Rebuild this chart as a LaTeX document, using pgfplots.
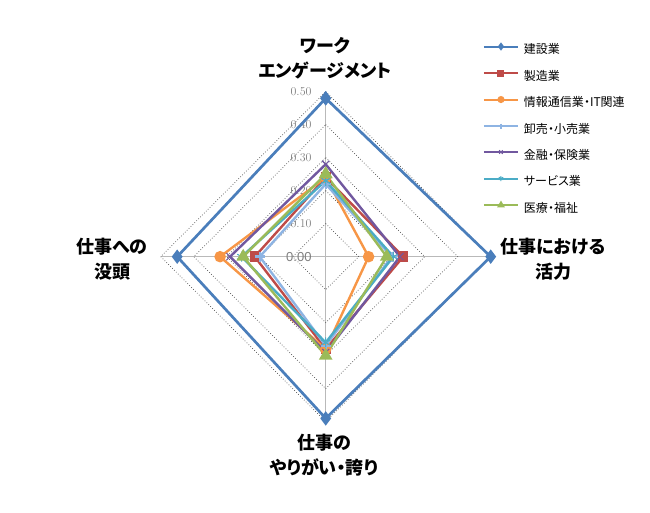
\documentclass[border=0pt]{standalone}
\usepackage{fontspec}
\usepackage{pgfplots}
\pgfplotsset{compat=1.18}
\newfontfamily\cjk{Noto Sans CJK JP}
\newfontfamily\cjkp[RawFeature=+palt]{Noto Sans CJK JP}
\newfontfamily\arial{Liberation Sans}
\definecolor{c1}{HTML}{4A7EBB}
\definecolor{c2}{HTML}{BE4B48}
\definecolor{c3}{HTML}{F79646}
\definecolor{c4}{HTML}{8EB4E3}
\definecolor{c5}{HTML}{71589F}
\definecolor{c6}{HTML}{4BACC6}
\definecolor{c7}{HTML}{9BBB59}
\definecolor{tk}{HTML}{7F7F7F}
\begin{document}
\begin{tikzpicture}[x=1pt,y=1pt]
\path[use as bounding box] (0,0) rectangle (650,513);
\begin{axis}[
  x=330pt, y=330pt,
  xmin=-0.6, xmax=0.6, ymin=-0.6, ymax=0.6,
  hide axis, clip=false,
  at={(325.7pt,256.3pt)}, anchor=center,
  line join=miter,
  legend cell align=left,
  legend image code/.code={\draw[mark repeat=2,mark phase=2,#1,line width=2pt,mark size=2.5pt] plot coordinates {(0pt,4pt) (17pt,4pt) (34pt,4pt)};},
  legend style={at={(axis cs:0.476,0.645)}, anchor=north west, draw=none, fill=none,
    inner sep=0pt, row sep=14pt, column sep=5pt,
    nodes={inner sep=0pt, text height=9pt, text depth=3pt, font=\cjkp\fontsize{12}{14}\selectfont}},
]
% grid
\draw[gray!55, line width=0.8pt] (axis cs:0,-0.5) -- (axis cs:0,0.5);
\draw[gray!55, line width=0.8pt] (axis cs:-0.5,0) -- (axis cs:0.5,0);
\pgfplotsinvokeforeach{0.1,0.2,0.3,0.4,0.5}{
  \draw[black!70, dotted, line width=0.7pt] (axis cs:0,#1) -- (axis cs:#1,0) -- (axis cs:0,-#1) -- (axis cs:-#1,0) -- cycle;
  \node[anchor=east, inner sep=0pt, text=tk, font=\arial\fontsize{13}{15}\selectfont] at ([xshift=-14pt]axis cs:0,#1) {\pgfmathprintnumber[fixed,fixed zerofill,precision=2]{#1}};
}
\node[anchor=east, inner sep=0pt, text=tk, font=\arial\fontsize{13}{15}\selectfont] at ([xshift=-14pt]axis cs:0,0) {0.00};
% series: top, right, bottom, left
\addplot[c1, line width=2.7pt, mark=diamond*, mark size=5pt, mark options={solid}] coordinates {(0,0.48) (0.50,0) (0,-0.49) (-0.45,0) (0,0.48)};
\addlegendentry{建設業}
\addplot[c2, line width=2.4pt, mark=square*, mark size=4pt] coordinates {(0,0.24) (0.235,0) (0,-0.28) (-0.215,0) (0,0.24)};
\addlegendentry{製造業}
\addplot[c3, line width=2.4pt, mark=*, mark size=4.5pt] coordinates {(0,0.24) (0.13,0) (0,-0.28) (-0.32,0) (0,0.24)};
\addlegendentry{情報通信業・IT関連}
\addplot[c4, line width=2.4pt, mark=+, mark size=5pt] coordinates {(0,0.22) (0.20,0) (0,-0.27) (-0.20,0) (0,0.22)};
\addlegendentry{卸売・小売業}
\addplot[c5, line width=2.4pt, mark=x, mark size=5pt, mark options={line width=1pt}] coordinates {(0,0.28) (0.225,0) (0,-0.29) (-0.29,0) (0,0.28)};
\addlegendentry{金融・保険業}
\addplot[c6, line width=2.4pt, mark=asterisk, mark size=5pt, mark options={line width=1pt}] coordinates {(0,0.23) (0.205,0) (0,-0.26) (-0.255,0) (0,0.23)};
\addlegendentry{サービス業}
\addplot[c7, line width=2.4pt, mark=triangle*, mark size=5.5pt] coordinates {(0,0.25) (0.185,0) (0,-0.30) (-0.25,0) (0,0.25)};
\addlegendentry{医療・福祉}
\end{axis}
\begin{scope}[every node/.style={align=center, inner sep=0pt, font=\cjkp\bfseries\fontsize{18}{25}\selectfont}]
\node at (325,455) {ワーク\\エンゲージメント};
\node at (112,254) {仕事への\\没頭};
\node at (553,254) {仕事における\\活力};
\node at (324,57.5) {仕事の\\やりがい・誇り};
\end{scope}
\end{tikzpicture}
\end{document}
